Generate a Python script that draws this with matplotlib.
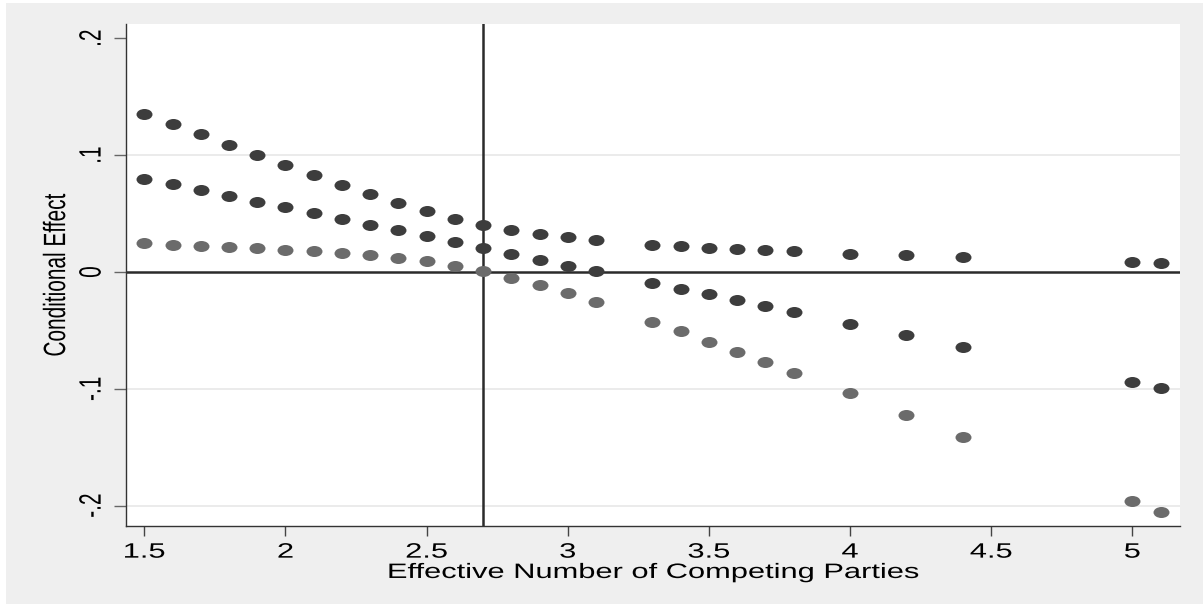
import numpy as np
import matplotlib
matplotlib.use("Agg")
import matplotlib.pyplot as plt
from matplotlib.path import Path
from matplotlib.patheffects import AbstractPathEffect
from matplotlib.transforms import Affine2D
from matplotlib.patches import Rectangle

# ---------------- data ----------------
enp = [1.5, 1.6, 1.7, 1.8, 1.9, 2.0, 2.1, 2.2, 2.3, 2.4, 2.5, 2.6, 2.7, 2.8,
       2.9, 3.0, 3.1, 3.3, 3.4, 3.5, 3.6, 3.7, 3.8, 4.0, 4.2, 4.4, 5.0, 5.1]
upper = [.1355, .1267, .1178, .1087, .1001, .0916, .0830, .0745, .0668, .0587,
         .0519, .0456, .0405, .0356, .0322, .0296, .0270, .0234, .0222, .0208,
         .0197, .0188, .0176, .0157, .0145, .0128, .0082, .0074]
effect = [.0798, .0753, .0698, .0653, .0599, .0553, .0502, .0454, .0402, .0356,
          .0305, .0253, .0205, .0157, .0105, .0054, .0005, -.0093, -.0146, -.0191,
          -.0243, -.0291, -.0342, -.0442, -.0542, -.0642, -.0939, -.0990]
lower = [.0245, .0234, .0225, .0214, .0205, .0191, .0180, .0163, .0142, .0120,
         .0091, .0054, .0005, -.0049, -.0109, -.0183, -.0260, -.0425, -.0505, -.0599,
         -.0685, -.0774, -.0862, -.1039, -.1227, -.1409, -.1960, -.2054]
x_ticks = [1.5, 2, 2.5, 3, 3.5, 4, 4.5, 5]
x_tick_labels = ["1.5", "2", "2.5", "3", "3.5", "4", "4.5", "5"]
y_ticks = [-0.2, -0.1, 0, 0.1, 0.2]
y_tick_labels = ["-.2", "-.1", "0", ".1", ".2"]
grid_levels = [-0.2, -0.1, 0.1]
threshold = 2.7
x_title = "Effective Number of Competing Parties"
y_title = "Conditional Effect"


class HStretch(AbstractPathEffect):
    """Stretch rendered text horizontally around its own centre."""
    def __init__(self, sx=1.5):
        super().__init__((0, 0))
        self.sx = sx

    def draw_path(self, renderer, gc, tpath, affine, rgbFace=None):
        ext = affine.transform_path(tpath).get_extents()
        cx, cy = (ext.x0 + ext.x1) / 2, (ext.y0 + ext.y1) / 2
        st = Affine2D().translate(-cx, -cy).scale(self.sx, 1).translate(cx, cy)
        renderer.draw_path(gc, tpath, affine + st, rgbFace)


plt.rcParams["font.family"] = ["Liberation Sans", "DejaVu Sans"]

W, H = 1203, 605
fig = plt.figure(figsize=(W / 100, H / 100), dpi=100)
fig.patch.set_facecolor("white")
fig.patches.append(Rectangle((6 / W, 1 / H), 1 - 6 / W, 1 - 4 / H,
                             transform=fig.transFigure, facecolor="#efefef",
                             edgecolor="none", zorder=-10))

L, R, T, B = 125.6, 1180, 24, 525.7
ax = fig.add_axes([L / W, 1 - B / H, (R - L) / W, (B - T) / H])
ax.set_facecolor("white")

ell = Path.unit_circle()
ell = Path(ell.vertices * np.array([1.0, 0.69]), ell.codes)

for lv in grid_levels:
    ax.axhline(lv, color="#ebebeb", lw=1.4, zorder=1)
ax.axhline(0, color="#2b2b2b", lw=1.8, zorder=2)
ax.axvline(threshold, color="#2b2b2b", lw=1.8, zorder=2)

ax.plot(enp, upper, ls="none", marker=ell, ms=11.5, mew=0, color="#3d3d3d", zorder=3)
ax.plot(enp, effect, ls="none", marker=ell, ms=11.5, mew=0, color="#3d3d3d", zorder=3)
ax.plot(enp, lower, ls="none", marker=ell, ms=11.5, mew=0, color="#6b6b6b", zorder=3)

ax.set_xlim(1.4337, 5.169)
ax.set_ylim(-0.2171, 0.2122)

for s in ["top", "right"]:
    ax.spines[s].set_visible(False)
for s in ["left", "bottom"]:
    ax.spines[s].set_color("#333333")
    ax.spines[s].set_linewidth(1.0)

ax.set_xticks(x_ticks, x_tick_labels)
ax.set_yticks(y_ticks, y_tick_labels)
ax.tick_params(axis="x", direction="out", length=7.2, width=1, color="#444444",
               pad=5, labelsize=15)
ax.tick_params(axis="y", direction="out", length=8.6, width=1, color="#666666",
               pad=9, labelsize=15, labelrotation=90)
for t in ax.get_yticklabels():
    t.set_va("center")

ax.set_xlabel(x_title, fontsize=15, va="baseline")
ax.xaxis.set_label_coords(0.501, -0.1042)
ax.set_ylabel(y_title, fontsize=15, va="center")
ax.yaxis.set_label_coords(-0.066, 0.5)

for t in list(ax.get_xticklabels()) + list(ax.get_yticklabels()) + [ax.xaxis.label, ax.yaxis.label]:
    t.set_path_effects([HStretch(1.48)])

fig.savefig("out.png", dpi=100, facecolor=fig.get_facecolor())
